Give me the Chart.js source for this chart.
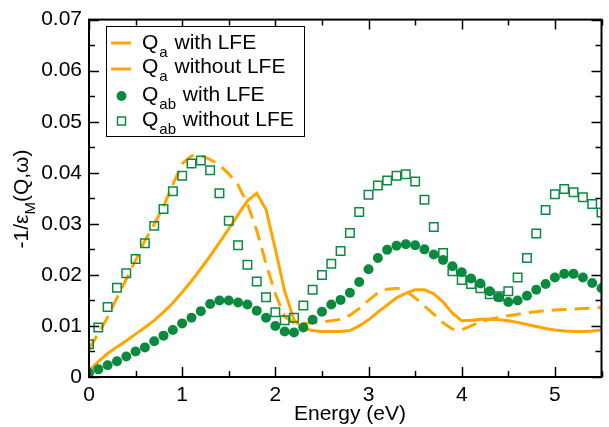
<!DOCTYPE html>
<html>
<head>
<meta charset="utf-8">
<script src="https://cdn.jsdelivr.net/npm/chart.js@4/dist/chart.umd.min.js"></script>
<style>
  html, body { margin: 0; padding: 0; background: #fff; }
  canvas { display: block; }
</style>
</head>
<body>
<canvas id="myChart" width="609" height="427"></canvas>
<script>
// energy grid (eV)
var energy = [0, 0.1, 0.2, 0.3, 0.4, 0.5, 0.6, 0.7, 0.8, 0.9,
  1.0, 1.1, 1.2, 1.3, 1.4, 1.5, 1.6, 1.7, 1.8, 1.9,
  2.0, 2.1, 2.2, 2.3, 2.4, 2.5, 2.6, 2.7, 2.8, 2.9,
  3.0, 3.1, 3.2, 3.3, 3.4, 3.5, 3.6, 3.7, 3.8, 3.9,
  4.0, 4.1, 4.2, 4.3, 4.4, 4.5, 4.6, 4.7, 4.8, 4.9,
  5.0, 5.1, 5.2, 5.3, 5.4, 5.5]

var qaWithLFE = [0.0012, 0.0030, 0.0046, 0.0059, 0.0071, 0.0084, 0.0097, 0.0111, 0.0127, 0.0145,
  0.0166, 0.0188, 0.0212, 0.0237, 0.0263, 0.0290, 0.0318, 0.0345, 0.0360, 0.0328,
  0.0250, 0.0168, 0.0112, 0.0095, 0.0091, 0.0089, 0.0089, 0.0089, 0.0091, 0.0100,
  0.0112, 0.0127, 0.0141, 0.0155, 0.0164, 0.0171, 0.0171, 0.0163, 0.0147, 0.0125,
  0.0110, 0.0111, 0.0113, 0.0113, 0.0112, 0.0110, 0.0107, 0.0103, 0.0099, 0.0095,
  0.0092, 0.0090, 0.0089, 0.0089, 0.0090, 0.0092]

var qaWithoutLFE = [0.0055, 0.0085, 0.0117, 0.0155, 0.0192, 0.0228, 0.0267, 0.0299, 0.0334, 0.0377,
  0.0418, 0.0433, 0.0434, 0.0426, 0.0415, 0.0398, 0.0376, 0.0339, 0.0287, 0.0222,
  0.0163, 0.0118, 0.0106, 0.0105, 0.0106, 0.0108, 0.0110, 0.0113, 0.0121, 0.0134,
  0.0150, 0.0165, 0.0172, 0.0174, 0.0169, 0.0155, 0.0139, 0.0123, 0.0106, 0.0094,
  0.0092, 0.0100, 0.0108, 0.0113, 0.0117, 0.0120, 0.0123, 0.0126, 0.0128, 0.0130,
  0.0131, 0.0132, 0.0133, 0.0134, 0.0135, 0.0136]

var qabWithLFE = [0.0008, 0.0015, 0.0023, 0.0031, 0.0040, 0.0050, 0.0058, 0.0070, 0.0081, 0.0092,
  0.0105, 0.0116, 0.0129, 0.0143, 0.0150, 0.0150, 0.0146, 0.0142, 0.0130, 0.0116,
  0.0100, 0.0089, 0.0087, 0.0097, 0.0112, 0.0128, 0.0142, 0.0151, 0.0165, 0.0186,
  0.0211, 0.0233, 0.0249, 0.0257, 0.0260, 0.0258, 0.0250, 0.0240, 0.0229, 0.0217,
  0.0205, 0.0193, 0.0183, 0.0168, 0.0156, 0.0147, 0.0150, 0.0159, 0.0171, 0.0182,
  0.0195, 0.0202, 0.0202, 0.0195, 0.0184, 0.0174]

var qabWithoutLFE = [0.0064, 0.0097, 0.0137, 0.0175, 0.0203, 0.0231, 0.0262, 0.0296, 0.0329, 0.0364,
  0.0394, 0.0418, 0.0424, 0.0405, 0.0360, 0.0306, 0.0258, 0.0220, 0.0187, 0.0156,
  0.0127, 0.0111, 0.0116, 0.0140, 0.0171, 0.0200, 0.0222, 0.0247, 0.0282, 0.0323,
  0.0357, 0.0375, 0.0385, 0.0394, 0.0397, 0.0383, 0.0347, 0.0294, 0.0243, 0.0207,
  0.0190, 0.0182, 0.0174, 0.0162, 0.0158, 0.0168, 0.0195, 0.0233, 0.0281, 0.0327,
  0.0358, 0.0368, 0.0362, 0.0352, 0.0339, 0.0322]

var xMajor = [0, 1, 2, 3, 4, 5]
var xMinor = [0.5, 1.5, 2.5, 3.5, 4.5, 5.5]
var yMajor = [0, 0.01, 0.02, 0.03, 0.04, 0.05, 0.06, 0.07]
var yMinor = [0.005, 0.015, 0.025, 0.035, 0.045, 0.055, 0.065]

var ORANGE = "#ffa500"
var GREEN = "#0a8a3e"
var FONT = "'Liberation Sans', Arial, Helvetica, sans-serif"

function pts(ys) {
  return ys.map(function (v, i) { return { x: energy[i], y: v } })
}

// draws frame, inward ticks, axis titles and the legend (with subscripts)
var decorations = {
  id: 'decorations',
  afterDatasetsDraw: function (chart) {
    var ctx = chart.ctx
    var a = chart.chartArea
    var xs = chart.scales.x
    var ys = chart.scales.y
    ctx.save()
    ctx.strokeStyle = "#000"
    ctx.lineWidth = 1.5
    function tickX(v, len) {
      var p = Math.round(xs.getPixelForValue(v)) + 0.5
      ctx.beginPath()
      ctx.moveTo(p, a.bottom); ctx.lineTo(p, a.bottom - len)
      ctx.moveTo(p, a.top); ctx.lineTo(p, a.top + len)
      ctx.stroke()
    }
    function tickY(v, len) {
      var p = Math.round(ys.getPixelForValue(v)) + 0.5
      ctx.beginPath()
      ctx.moveTo(a.left, p); ctx.lineTo(a.left + len, p)
      ctx.moveTo(a.right, p); ctx.lineTo(a.right - len, p)
      ctx.stroke()
    }
    xMajor.forEach(function (v) { tickX(v, 10) })
    xMinor.forEach(function (v) { tickX(v, 6) })
    yMajor.forEach(function (v) { tickY(v, 10) })
    yMinor.forEach(function (v) { tickY(v, 6) })
    ctx.lineWidth = 2
    ctx.strokeRect(a.left, a.top, a.right - a.left, a.bottom - a.top)
    ctx.restore()
  },
  afterDraw: function (chart) {
    var ctx = chart.ctx
    var big = "21px " + FONT, small = "15px " + FONT
    ctx.save()
    ctx.fillStyle = "#000"
    ctx.textBaseline = "alphabetic"

    // x title
    ctx.font = big
    ctx.textAlign = "center"
    ctx.fillText("Energy (eV)", 350, 420)
    ctx.textAlign = "left"

    // y title, rotated
    ctx.save()
    ctx.translate(28, 199)
    ctx.rotate(-Math.PI / 2)
    ctx.font = big
    var w1 = ctx.measureText("-1/\u03b5").width
    var w3 = ctx.measureText("(Q,\u03c9)").width
    ctx.font = small
    var w2 = ctx.measureText("M").width
    var x0 = -(w1 + w2 + w3) / 2
    ctx.font = big
    ctx.fillText("-1/\u03b5", x0, 0)
    ctx.font = small
    ctx.fillText("M", x0 + w1, 7)
    ctx.font = big
    ctx.fillText("(Q,\u03c9)", x0 + w1 + w2, 0)
    ctx.restore()

    // legend
    ctx.fillStyle = "#fff"
    ctx.fillRect(106.5, 26.5, 198, 110)
    ctx.strokeStyle = "#000"
    ctx.lineWidth = 1
    ctx.strokeRect(106.5, 26.5, 198, 110)

    var rows = [
      { sub: "a", txt: "with LFE", kind: "line", base: 49, sym: 43 },
      { sub: "a", txt: "without LFE", kind: "line", base: 73, sym: 69 },
      { sub: "ab", txt: "with LFE", kind: "circle", base: 100.5, sym: 96 },
      { sub: "ab", txt: "without LFE", kind: "square", base: 126, sym: 121 }
    ]
    rows.forEach(function (r) {
      if (r.kind === "line") {
        ctx.strokeStyle = ORANGE
        ctx.lineWidth = 3
        ctx.beginPath()
        ctx.moveTo(111, r.sym); ctx.lineTo(131, r.sym)
        ctx.stroke()
      } else if (r.kind === "circle") {
        ctx.fillStyle = GREEN
        ctx.beginPath()
        ctx.arc(121.5, r.sym, 5, 0, Math.PI * 2)
        ctx.fill()
      } else {
        ctx.strokeStyle = GREEN
        ctx.lineWidth = 1.5
        ctx.strokeRect(117.5, r.sym - 4, 8, 8)
      }
      ctx.fillStyle = "#000"
      ctx.font = big
      ctx.fillText("Q", 142, r.base)
      var qw = ctx.measureText("Q").width
      ctx.font = small
      ctx.fillText(r.sub, 142 + qw + 1, r.base + 8)
      var sw = ctx.measureText(r.sub).width
      ctx.font = big
      ctx.fillText(" " + r.txt, 142 + qw + 1 + sw + 1, r.base)
    })
    ctx.restore()
  }
}

var ctx = document.getElementById("myChart").getContext("2d")
var chart = new Chart(ctx, {
  type: 'scatter',
  data: {
    datasets: [{
      label: "Qa with LFE",
      data: pts(qaWithLFE),
      showLine: true,
      borderColor: ORANGE,
      borderWidth: 3,
      pointRadius: 0,
      order: 4
    }, {
      label: "Qa without LFE",
      data: pts(qaWithoutLFE),
      showLine: true,
      borderColor: ORANGE,
      borderWidth: 3,
      borderDash: [15, 8],
      pointRadius: 0,
      order: 3
    }, {
      label: "Qab with LFE",
      data: pts(qabWithLFE),
      showLine: false,
      pointStyle: 'circle',
      pointRadius: 5,
      backgroundColor: GREEN,
      borderColor: GREEN,
      borderWidth: 0,
      order: 2
    }, {
      label: "Qab without LFE",
      data: pts(qabWithoutLFE),
      showLine: false,
      pointStyle: 'rect',
      pointRadius: 6,
      backgroundColor: 'rgba(0,0,0,0)',
      borderColor: GREEN,
      borderWidth: 1.5,
      order: 1
    }]
  },
  options: {
    responsive: false,
    animation: false,
    layout: { padding: { top: 14, right: 1, left: 0, bottom: 0 } },
    plugins: { legend: { display: false }, tooltip: { enabled: false } },
    scales: {
      x: {
        type: 'linear',
        min: 0,
        max: 5.5,
        grid: { display: false, drawTicks: false },
        border: { display: false },
        ticks: {
          stepSize: 1,
          includeBounds: false,
          color: "#000",
          padding: 6,
          font: { family: FONT, size: 21 }
        },
        afterFit: function (scale) { scale.height = 50 }
      },
      y: {
        min: 0,
        max: 0.07,
        grid: { display: false, drawTicks: false },
        border: { display: false },
        ticks: {
          stepSize: 0.01,
          color: "#000",
          padding: 7,
          font: { family: FONT, size: 21 }
        },
        afterFit: function (scale) { scale.width = 89 }
      }
    }
  },
  plugins: [decorations]
})
</script>
</body>
</html>
